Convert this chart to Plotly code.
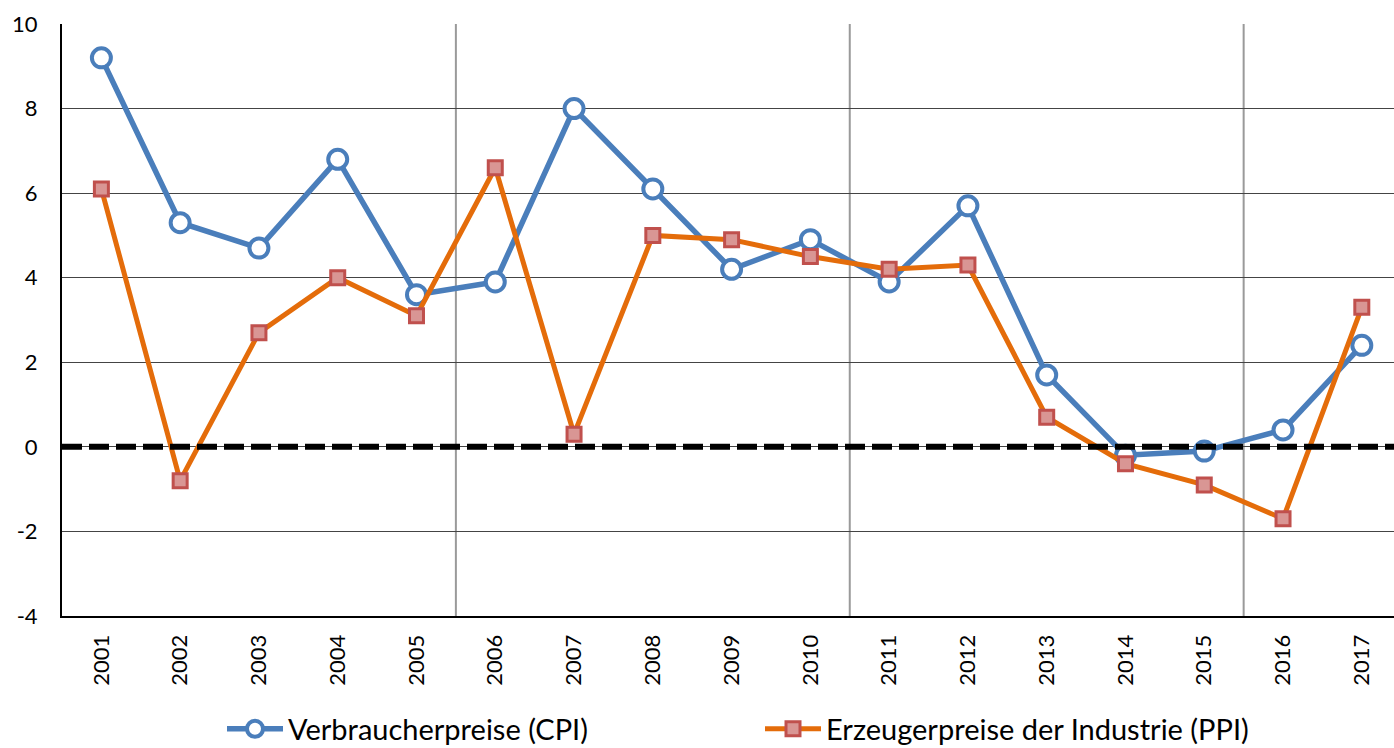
import plotly.graph_objects as go

years = ["2001", "2002", "2003", "2004", "2005", "2006", "2007", "2008", "2009",
         "2010", "2011", "2012", "2013", "2014", "2015", "2016", "2017"]
cpi = [9.2, 5.3, 4.7, 6.8, 3.6, 3.9, 8.0, 6.1, 4.2, 4.9, 3.9, 5.7, 1.7, -0.2, -0.1, 0.4, 2.4]
ppi = [6.1, -0.8, 2.7, 4.0, 3.1, 6.6, 0.3, 5.0, 4.9, 4.5, 4.2, 4.3, 0.7, -0.4, -0.9, -1.7, 3.3]
y_ticks = [-4, -2, 0, 2, 4, 6, 8, 10]

FONT = "Lato, 'Open Sans', sans-serif"
W, H = 1394, 748

fig = go.Figure()
fig.add_trace(go.Scatter(
    x=years, y=cpi, mode="lines+markers", name="Verbraucherpreise (CPI)",
    line=dict(color="#4A7EBB", width=5.5),
    marker=dict(symbol="circle", size=19, color="white",
                line=dict(color="#4A7EBB", width=4)),
    legend="legend",
))
fig.add_trace(go.Scatter(
    x=years, y=ppi, mode="lines+markers", name="Erzeugerpreise der Industrie (PPI)",
    line=dict(color="#E46C0A", width=5),
    marker=dict(symbol="square", size=14, color="#D99694",
                line=dict(color="#C0504D", width=3)),
    legend="legend2",
))

# dashed zero line across the plot
fig.add_shape(type="line", xref="paper", yref="y", x0=0, x1=1, y0=0, y1=0,
              line=dict(color="black", width=6, dash="20px,7px"), layer="above")

# vertical separators every five years
for b in [4.5, 9.5, 14.5]:
    fig.add_shape(type="line", xref="x", yref="paper", x0=b, x1=b, y0=0, y1=1,
                  line=dict(color="#9A9A9A", width=2), layer="below")

legend_style = dict(orientation="h", xref="container", yref="container",
                    yanchor="middle", y=1 - 729 / H, xanchor="left",
                    font=dict(size=29, family=FONT), itemwidth=56,
                    borderwidth=0, bgcolor="rgba(0,0,0,0)")

fig.update_layout(
    width=W, height=H,
    margin=dict(l=62, r=0, t=24, b=132),
    paper_bgcolor="white", plot_bgcolor="white",
    font=dict(family=FONT, color="black", size=22),
    showlegend=True,
    legend=dict(legend_style, x=222 / W),
    legend2=dict(legend_style, x=760 / W),
    xaxis=dict(type="category", range=[-0.5, (W - 101) / 78.8], showgrid=False,
               tickangle=-90, tickfont=dict(size=22, family=FONT),
               showline=True, linecolor="black", linewidth=2, ticks="",
               ticklabelstandoff=8, automargin=False),
    yaxis=dict(range=[-4, 10], tickvals=y_ticks, ticktext=[str(v) for v in y_ticks],
               showgrid=True, gridcolor="#444444", gridwidth=1,
               zeroline=False, showline=True, linecolor="black", linewidth=2,
               ticks="", ticklabelstandoff=18, tickfont=dict(size=22, family=FONT),
               automargin=False),
)

fig.write_html("out.html")
